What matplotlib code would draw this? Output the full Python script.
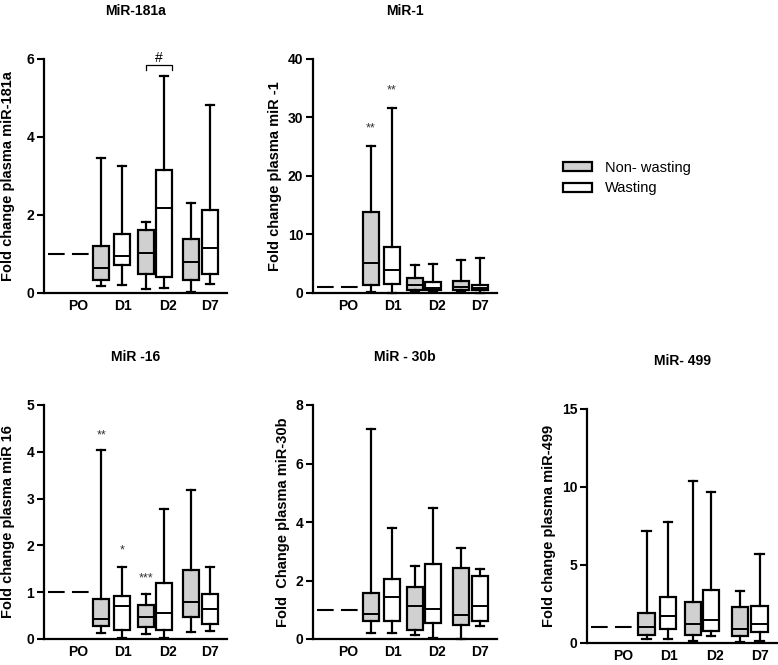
import matplotlib.pyplot as plt
from matplotlib.patches import Patch

plt.rcParams['font.family'] = ['Liberation Sans', 'DejaVu Sans']

# groups and legend
groups = ['PO', 'D1', 'D2', 'D7']
legend_labels = ['Non- wasting', 'Wasting']

# box order in every panel: D1 non-wasting, D1 wasting, D2 nw, D2 w, D7 nw, D7 w
# MiR-181a
m181_lo = [0.17, 0.21, 0.09, 0.13, 0.03, 0.23]
m181_q1 = [0.34, 0.71, 0.49, 0.41, 0.34, 0.49]
m181_med = [0.64, 0.96, 1.02, 2.18, 0.79, 1.15]
m181_q3 = [1.21, 1.51, 1.61, 3.15, 1.38, 2.13]
m181_hi = [3.45, 3.26, 1.82, 5.56, 2.32, 4.81]

# MiR-1
m1_lo = [0.2, 0.0, 0.17, 0.1, 0.1, 0.05]
m1_q1 = [1.3, 1.6, 0.46, 0.57, 0.46, 0.46]
m1_med = [5.1, 4.0, 1.42, 0.85, 1.0, 0.85]
m1_q3 = [13.9, 7.8, 2.56, 1.88, 2.05, 1.42]
m1_hi = [25.1, 31.6, 4.84, 5.0, 5.7, 6.0]

# MiR-16
m16_lo = [0.13, 0.02, 0.11, 0.02, 0.15, 0.18]
m16_q1 = [0.28, 0.2, 0.26, 0.2, 0.46, 0.33]
m16_med = [0.43, 0.71, 0.47, 0.55, 0.78, 0.64]
m16_q3 = [0.85, 0.92, 0.72, 1.19, 1.48, 0.97]
m16_hi = [4.03, 1.53, 0.97, 2.78, 3.19, 1.53]

# MiR-30b
m30_lo = [0.2, 0.2, 0.15, 0.03, 0.0, 0.43]
m30_q1 = [0.6, 0.6, 0.32, 0.55, 0.49, 0.6]
m30_med = [0.85, 1.43, 1.14, 1.02, 0.81, 1.14]
m30_q3 = [1.57, 2.06, 1.77, 2.57, 2.42, 2.14]
m30_hi = [7.18, 3.79, 2.51, 4.47, 3.1, 2.39]

# MiR-499
m499_lo = [0.28, 0.28, 0.15, 0.47, 0.06, 0.1]
m499_q1 = [0.53, 0.9, 0.49, 0.75, 0.47, 0.68]
m499_med = [1.03, 1.71, 1.22, 1.45, 0.9, 1.24]
m499_q3 = [1.92, 2.93, 2.63, 3.38, 2.29, 2.35]
m499_hi = [7.2, 7.76, 10.4, 9.66, 3.31, 5.7]

# significance marks: (box index, y value, text)
m1_stars = [(0, 28.1, '**'), (1, 34.6, '**')]
m16_stars = [(0, 4.36, '**'), (1, 1.9, '*'), (2, 1.3, '***')]

# layout (x axis in pixel-like units, 0..185)
box_pos = [58, 79, 103, 121, 149, 168]
label_pos = [35, 80, 125, 168]
po_span = (4, 50)
box_fill = ['#d0d0d0', 'white'] * 3

panels = [
    dict(rect=[44, 59, 183, 234], title='MiR-181a', ylabel='Fold change plasma miR-181a',
         data=(m181_lo, m181_q1, m181_med, m181_q3, m181_hi), ticks=[0, 2, 4, 6], pad=8),
    dict(rect=[313, 59, 184, 234], title='MiR-1', ylabel='Fold change plasma miR -1',
         data=(m1_lo, m1_q1, m1_med, m1_q3, m1_hi), ticks=[0, 10, 20, 30, 40], pad=4,
         stars=m1_stars),
    dict(rect=[44, 405, 183, 234], title='MiR -16', ylabel='Fold change plasma miR 16',
         data=(m16_lo, m16_q1, m16_med, m16_q3, m16_hi), ticks=[0, 1, 2, 3, 4, 5], pad=8,
         stars=m16_stars),
    dict(rect=[313, 405, 184, 234], title='MiR - 30b', ylabel='Fold  Change plasma miR-30b',
         data=(m30_lo, m30_q1, m30_med, m30_q3, m30_hi), ticks=[0, 2, 4, 6, 8], pad=4),
    dict(rect=[587, 409, 190, 234], title='MiR- 499', ylabel='Fold change plasma miR-499',
         data=(m499_lo, m499_q1, m499_med, m499_q3, m499_hi), ticks=[0, 5, 10, 15], pad=4),
]

W, H = 778, 665
fig = plt.figure(figsize=(W / 100, H / 100), dpi=100)

lw = 1.6
for p in panels:
    x0, y0, w, h = p['rect']
    ax = fig.add_axes([x0 / W, 1 - (y0 + h) / H, w / W, h / H])
    lo, q1, med, q3, hi = p['data']
    stats = [dict(whislo=lo[i], q1=q1[i], med=med[i], q3=q3[i], whishi=hi[i], fliers=[])
             for i in range(len(med))]
    bp = ax.bxp(stats, positions=box_pos, widths=16, capwidths=8, patch_artist=True,
                showfliers=False, manage_ticks=False,
                boxprops=dict(linewidth=lw, edgecolor='black'),
                whiskerprops=dict(linewidth=lw, color='black'),
                capprops=dict(linewidth=lw, color='black'),
                medianprops=dict(linewidth=1.4, color='black'))
    for patch, c in zip(bp['boxes'], box_fill):
        patch.set_facecolor(c)
    for art in bp['whiskers'] + bp['caps']:
        art.set_clip_on(False)

    # PO reference level
    ax.hlines(1, po_span[0], po_span[1], colors='black', linewidth=1.5,
              linestyles=(0, (8, 3.5)))

    for i, yv, s in p.get('stars', []):
        ax.text(box_pos[i], yv, s, ha='center', va='center', fontsize=9, color='#333333')

    top = p['ticks'][-1]
    ax.set_xlim(0, 185)
    ax.set_ylim(0, top)
    ax.set_yticks(p['ticks'])
    ax.set_xticks(label_pos)
    ax.set_xticklabels(groups)
    for lab in ax.get_xticklabels() + ax.get_yticklabels():
        lab.set_fontweight('bold')
        lab.set_fontsize(10)
    ax.tick_params(axis='x', length=0, pad=4)
    ax.tick_params(axis='y', length=5, width=1.5, pad=2)
    for side in ['top', 'right']:
        ax.spines[side].set_visible(False)
    for side in ['left', 'bottom']:
        ax.spines[side].set_linewidth(1.6)
    ax.set_ylabel(p['ylabel'], fontsize=10.5, fontweight='bold', labelpad=p['pad'])
    ax.set_title(p['title'], fontsize=10, fontweight='bold', pad=32)

    if p['title'] == 'MiR-181a':
        # bracket over D2 pair
        ax.plot([box_pos[2], box_pos[2], box_pos[3] + 8, box_pos[3] + 8],
                [5.72, 5.84, 5.84, 5.72], color='black', linewidth=0.9)
        ax.text((box_pos[2] + box_pos[3] + 8) / 2, 6.03, '#', ha='center', va='center',
                fontsize=10)

handles = [Patch(facecolor=c, edgecolor='black', linewidth=1.6) for c in box_fill[:2]]
fig.legend(handles, legend_labels, loc='center left', bbox_to_anchor=(563 / W, 1 - 178 / H),
           frameon=False, fontsize=10.5, handlelength=2.0, handleheight=0.55,
           handletextpad=0.9, labelspacing=0.45, borderpad=0, borderaxespad=0)

fig.savefig('out.png', dpi=100)
